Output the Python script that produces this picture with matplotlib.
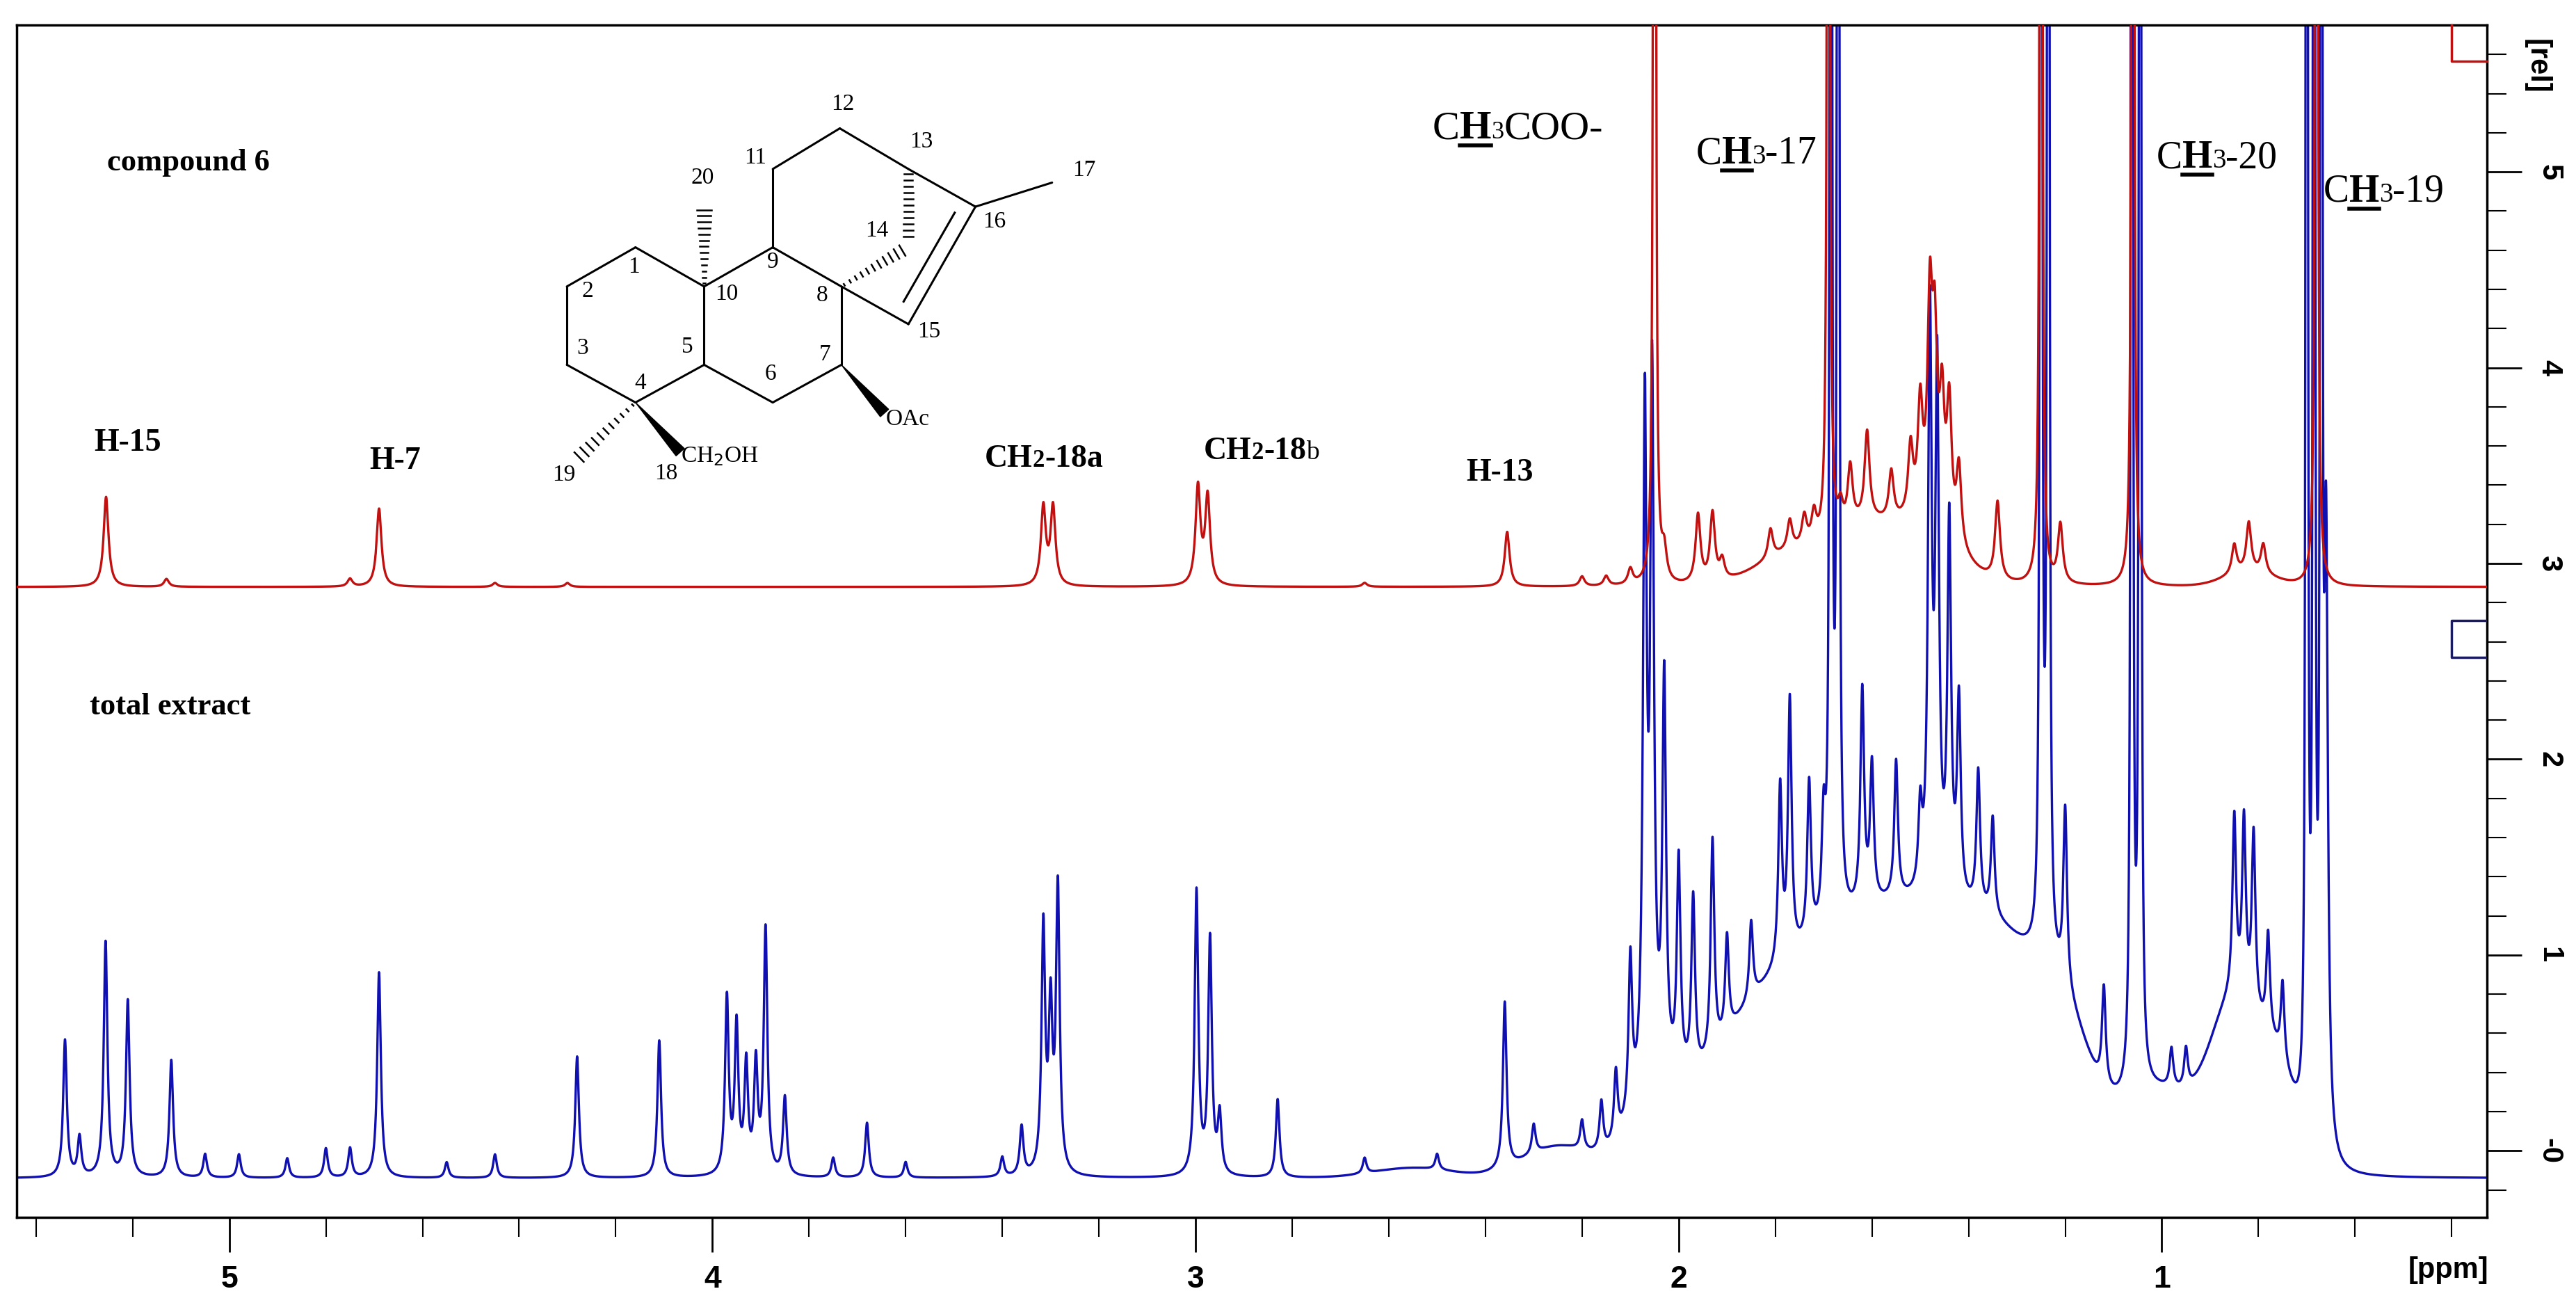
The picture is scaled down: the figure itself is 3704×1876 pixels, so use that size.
import numpy as np
import matplotlib
matplotlib.use("Agg")
import matplotlib.pyplot as plt
from matplotlib.patches import Polygon

W, H = 3704, 1876
SERIF = ["Liberation Serif", "DejaVu Serif"]
SANS = ["Liberation Sans", "DejaVu Sans"]

# ---------------- data: peaks ----------------
# compound 6 (red), baseline offset
red_base = 2.88
red_ppm = [5.255, 5.13, 4.75, 4.69, 4.45, 4.30, 3.315, 3.295, 2.995, 2.975, 2.65, 2.355,
           2.20, 2.15, 2.10, 2.05, 2.03, 1.96, 1.93, 1.91, 1.81, 1.77, 1.74, 1.72, 1.69,
           1.665, 1.645, 1.61, 1.56, 1.52, 1.50, 1.48, 1.47, 1.455, 1.44, 1.42, 1.34,
           1.25, 1.21, 1.06, 0.85, 0.82, 0.79, 0.68]
red_h = [0.46, 0.04, 0.04, 0.40, 0.02, 0.02, 0.40, 0.40, 0.50, 0.45, 0.02, 0.28,
         0.05, 0.05, 0.08, 30.0, 0.15, 0.35, 0.35, 0.10, 0.15, 0.15, 0.15, 0.15, 30.0,
         0.12, 0.30, 0.45, 0.25, 0.35, 0.55, 1.05, 0.85, 0.60, 0.65, 0.40, 0.40,
         30.0, 0.30, 30.0, 0.15, 0.25, 0.15, 30.0]
red_broad_ppm = [1.50, 1.75, 0.82, 1.62]
red_broad_h = [0.30, 0.18, 0.07, 0.20]
red_broad_s = [0.07, 0.08, 0.05, 0.05]

# total extract (blue)
blue_base = -0.14
blue_ppm = [5.34, 5.31, 5.256, 5.21, 5.12, 5.05, 4.98, 4.88, 4.80, 4.75, 4.69, 4.55, 4.45,
            4.28, 4.11, 3.97, 3.95, 3.93, 3.91, 3.89, 3.85, 3.75, 3.68, 3.60, 3.40, 3.36,
            3.315, 3.30, 3.285, 2.998, 2.97, 2.95, 2.83, 2.65, 2.50, 2.36, 2.30, 2.20, 2.16,
            2.13, 2.10, 2.07, 2.055, 2.03, 2.00, 1.97, 1.93, 1.90, 1.85, 1.79, 1.77, 1.73,
            1.70, 1.685, 1.67, 1.62, 1.60, 1.55, 1.50, 1.48, 1.465, 1.44, 1.42, 1.38, 1.35,
            1.25, 1.235, 1.20, 1.12, 1.062, 1.045, 0.98, 0.95, 0.85, 0.83, 0.81, 0.78, 0.75,
            0.70, 0.685, 0.67, 0.66]
blue_h = [0.70, 0.20, 1.20, 0.90, 0.60, 0.12, 0.12, 0.10, 0.15, 0.15, 1.05, 0.08, 0.12,
          0.62, 0.70, 0.90, 0.75, 0.55, 0.55, 1.25, 0.40, 0.10, 0.28, 0.08, 0.10, 0.25,
          1.25, 0.80, 1.45, 1.45, 1.20, 0.30, 0.40, 0.08, 0.08, 0.85, 0.15, 0.15, 0.25,
          0.35, 0.80, 3.40, 3.50, 2.00, 1.10, 0.90, 1.10, 0.50, 0.40, 0.90, 1.30, 0.80,
          0.50, 30.0, 30.0, 1.10, 0.70, 0.70, 0.40, 2.90, 2.60, 1.90, 1.00, 0.70, 0.50,
          30.0, 30.0, 0.90, 0.50, 30.0, 30.0, 0.20, 0.20, 0.90, 0.90, 0.90, 0.50, 0.40,
          30.0, 30.0, 30.0, 3.00]
blue_broad_ppm = [1.55, 1.85, 2.25, 1.30, 1.00, 0.85, 0.76, 2.55, 1.20, 2.05]
blue_broad_h = [1.35, 0.45, 0.15, 0.55, 0.40, 0.80, 0.45, 0.05, 0.30, 0.25]
blue_broad_s = [0.20, 0.12, 0.07, 0.10, 0.08, 0.05, 0.04, 0.08, 0.05, 0.05]

x_ticks = [5, 4, 3, 2, 1]
y_ticks = [0, 1, 2, 3, 4, 5]
y_ticklabels = ["-0", "1", "2", "3", "4", "5"]


def spectrum(x, base, ppm, h, bppm, bh, bs, w_sharp):
    y = np.full_like(x, base)
    for c, a in zip(ppm, h):
        g = 0.0012 if a > 10 else w_sharp
        y += a * g * g / ((x - c) ** 2 + g * g)
    for c, a, s in zip(bppm, bh, bs):
        y += a * np.exp(-0.5 * ((x - c) / s) ** 2)
    return y


x = np.linspace(0.30, 5.50, 60000)
y_red = spectrum(x, red_base, red_ppm, red_h, red_broad_ppm, red_broad_h, red_broad_s, 0.006)
y_blue = spectrum(x, blue_base, blue_ppm, blue_h, blue_broad_ppm, blue_broad_h, blue_broad_s, 0.0045)

fig = plt.figure(figsize=(W / 100, H / 100), dpi=100)
ax = fig.add_axes([24 / W, 1 - 1750 / H, (3576 - 24) / W, (1750 - 36) / H])
ax.plot(x, y_blue, color="#1010b0", lw=2.4, zorder=2)
ax.plot(x, y_red, color="#c01010", lw=2.4, zorder=3)
ax.set_xlim(5.44, 0.327)
ax.set_ylim(-0.34, 5.75)

ax.yaxis.tick_right()
ax.set_yticks(y_ticks)
ax.set_yticklabels(y_ticklabels, rotation=-90, va="center", fontsize=30,
                   fontweight="bold", family=SANS)
ax.set_yticks(np.arange(-0.2, 5.8, 0.2), minor=True)
ax.set_xticks(x_ticks)
ax.set_xticklabels([str(t) for t in x_ticks], fontsize=32, fontweight="bold", family=SANS)
ax.set_xticks(np.arange(0.4, 5.45, 0.2), minor=True)
ax.tick_params(axis="both", which="major", length=36, width=2, direction="out", pad=14)
ax.tick_params(axis="both", which="minor", length=20, width=1.5, direction="out")
ax.tick_params(axis="y", which="both", left=False, right=True)
for s in ax.spines.values():
    s.set_linewidth(2.5)

# integral boxes
ax.plot([0.327, 0.40, 0.40], [5.565, 5.565, 5.75], color="#c01010", lw=2.5, clip_on=False, zorder=4)
ax.plot([0.327, 0.40, 0.40, 0.327], [2.71, 2.71, 2.52, 2.52], color="#1a1a60", lw=2.5, zorder=4)

# overlay for texts and structure (pixel coordinates)
ov = fig.add_axes([0, 0, 1, 1], facecolor="none")
ov.set_xlim(0, W)
ov.set_ylim(H, 0)
ov.axis("off")

fig.text(3648 / W, 1 - 95 / H, "[rel]", rotation=-90, ha="center", va="center",
         fontsize=30, fontweight="bold", family=SANS)
fig.text(3520 / W, 1 - 1826 / H, "[ppm]", ha="center", va="center",
         fontsize=30, fontweight="bold", family=SANS)

renderer = fig.canvas.get_renderer()


def parts_text(x0, y0, parts):
    """parts: (text, size, weight, underline)"""
    cur = x0
    for txt, size, weight, ul in parts:
        t = ov.text(cur, y0, txt, fontsize=size, fontweight=weight, family=SERIF,
                    ha="left", va="baseline")
        bb = t.get_window_extent(renderer)
        if ul:
            ov.plot([cur, cur + bb.width], [y0 + 10, y0 + 10], color="black", lw=4)
        cur += bb.width


B = "bold"
N = "normal"
parts_text(154, 245, [("compound 6", 32, B, False)])
parts_text(129, 1027, [("total extract", 32, B, False)])
parts_text(135, 648, [("H-15", 33, B, False)])
parts_text(531, 674, [("H-7", 33, B, False)])
parts_text(1416, 671, [("CH", 33, B, False), ("2", 25, B, False), ("-18a", 33, B, False)])
parts_text(1731, 660, [("CH", 33, B, False), ("2", 25, B, False), ("-18", 33, B, False),
                      ("b", 27, N, False)])
parts_text(2108, 691, [("H-13", 33, B, False)])
parts_text(2060, 199, [("C", 42, N, False), ("H", 42, B, True), ("3", 26, N, False),
                      ("COO-", 42, N, False)])
parts_text(2439, 235, [("C", 40, N, False), ("H", 40, B, True), ("3", 28, N, False),
                      ("-17", 40, N, False)])
parts_text(3101, 241, [("C", 40, N, False), ("H", 40, B, True), ("3", 28, N, False),
                      ("-20", 40, N, False)])
parts_text(3341, 290, [("C", 40, N, False), ("H", 40, B, True), ("3", 28, N, False),
                      ("-19", 40, N, False)])

# ---------------- structure drawing ----------------
def P(xd, yd):
    return (760 + 0.459 * xd, 20 + 0.433 * yd)


atoms = {
    1: (335, 775), 2: (120, 905), 3: (120, 1165), 4: (335, 1290), 5: (550, 1165),
    10: (550, 905), 9: (765, 775), 8: (980, 905), 7: (980, 1165), 6: (765, 1290),
    11: (765, 515), 12: (975, 380), 13: (1190, 515), 16: (1400, 640), 15: (1190, 1030),
    17: (1640, 560),
}
bonds = [(1, 2), (2, 3), (3, 4), (4, 5), (5, 10), (10, 1), (10, 9), (9, 8), (8, 7), (7, 6),
         (6, 5), (9, 11), (11, 12), (12, 13), (13, 16), (16, 15), (15, 8), (16, 17)]
for a, b in bonds:
    p, q = P(*atoms[a]), P(*atoms[b])
    ov.plot([p[0], q[0]], [p[1], q[1]], color="black", lw=2.2, solid_capstyle="round")
p, q = P(1335, 660), P(1175, 955)
ov.plot([p[0], q[0]], [p[1], q[1]], color="black", lw=2.2)


def hashed(p0, p1, w0, w1, n):
    p0, p1 = np.array(P(*p0)), np.array(P(*p1))
    d = p1 - p0
    L = np.hypot(*d)
    u = d / L
    nrm = np.array([-u[1], u[0]])
    for i in range(n):
        f = (i + 0.5) / n
        c = p0 + d * f
        hw = w0 + (w1 - w0) * f
        a, b = c + nrm * hw, c - nrm * hw
        ov.plot([a[0], b[0]], [a[1], b[1]], color="black", lw=1.8)


def wedge(p0, p1, w1):
    p0, p1 = np.array(P(*p0)), np.array(P(*p1))
    d = p1 - p0
    u = d / np.hypot(*d)
    nrm = np.array([-u[1], u[0]])
    ov.add_patch(Polygon([p0, p1 + nrm * w1, p1 - nrm * w1], closed=True, color="black"))


hashed((550, 905), (550, 640), 1, 11, 13)
hashed((980, 905), (1180, 780), 1, 9, 11)
hashed((1190, 520), (1190, 750), 6, 7, 11)
hashed((335, 1290), (150, 1480), 1, 10, 11)
wedge((335, 1290), (475, 1455), 8)
wedge((980, 1165), (1115, 1325), 8)

labels = [("12", 985, 300), ("13", 1230, 425), ("11", 710, 478), ("20", 545, 545),
          ("14", 1090, 720), ("16", 1460, 690), ("1", 330, 840), ("9", 765, 825),
          ("2", 185, 920), ("10", 620, 930), ("8", 920, 935), ("15", 1255, 1055),
          ("3", 170, 1110), ("5", 498, 1105), ("7", 928, 1130), ("4", 350, 1225),
          ("6", 758, 1195), ("19", 110, 1530), ("18", 430, 1525), ("17", 1740, 520)]
for txt, xd, yd in labels:
    px, py = P(xd, yd)
    ov.text(px, py, txt, fontsize=24, family=SERIF, ha="center", va="center")
px, py = P(1120, 1345)
ov.text(px, py, "OAc", fontsize=24, family=SERIF, ha="left", va="center")
px, py = P(478, 1470)
ov.text(px, py, "CH$_2$OH", fontsize=24, family=SERIF, ha="left", va="center")

fig.savefig("out.png", dpi=100)
